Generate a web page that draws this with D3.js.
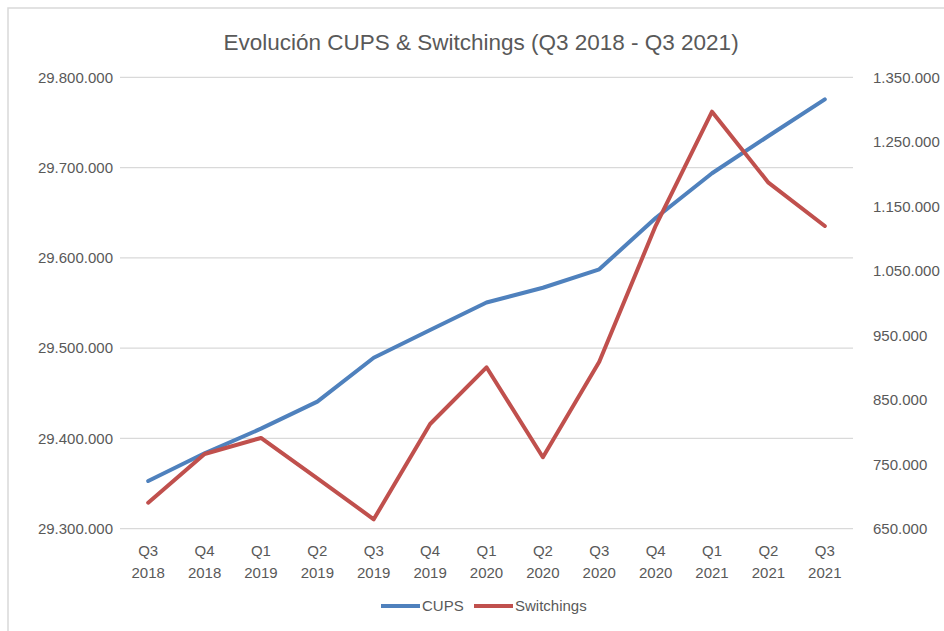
<!DOCTYPE html>
<html>
<head>
<meta charset="utf-8">
<script src="https://cdn.jsdelivr.net/npm/d3@7"></script>
<style>
  html, body { margin: 0; padding: 0; background: #fff; }
  svg { display: block; font-family: "Liberation Sans", Arial, sans-serif; }
</style>
</head>
<body>
<svg id="chart" width="944" height="631"></svg>
<script>
// Quarterly periods shown on the x axis
const quarters = ["Q3", "Q4", "Q1", "Q2", "Q3", "Q4", "Q1", "Q2", "Q3", "Q4", "Q1", "Q2", "Q3"];
const years    = ["2018", "2018", "2019", "2019", "2019", "2019", "2020", "2020", "2020", "2020", "2021", "2021", "2021"];

// CUPS (left axis)
const cups = [29352800, 29383500, 29410800, 29440700, 29489400, 29520100, 29550500,
              29566900, 29587300, 29644200, 29693700, 29735000, 29775600];

// Switchings (right axis)
const switchings = [690400, 765900, 790700, 728200, 664600, 812400, 900300,
                    760800, 909000, 1119700, 1296700, 1186600, 1119400];

// Axis ticks
const leftTicks  = [29300000, 29400000, 29500000, 29600000, 29700000, 29800000];
const rightTicks = [650000, 750000, 850000, 950000, 1050000, 1150000, 1250000, 1350000];

const seriesNames  = ["CUPS", "Switchings"];
const seriesColors = ["#4f81bd", "#c0504d"];

const svg = d3.select("#chart");
const W = 944, H = 631;
const plot = { left: 120, right: 853, top: 77.3, bottom: 528.7 };

// Chart frame
svg.append("rect")
  .attr("x", 8).attr("y", 8)
  .attr("width", W).attr("height", H)
  .attr("fill", "#fff")
  .attr("stroke", "#d9d9d9").attr("stroke-width", 1.5);

// Spanish-style thousands separator
const fmt = d3.formatLocale({ decimal: ",", thousands: ".", grouping: [3], currency: ["", "€"] }).format(",d");

const idx = d3.range(quarters.length);
const x = d3.scaleBand().domain(idx).range([plot.left, plot.right]);
const cx = i => x(i) + x.bandwidth() / 2;

const yL = d3.scaleLinear().domain([29300000, 29800000]).range([plot.bottom, plot.top]);
const yR = d3.scaleLinear().domain([650000, 1350000]).range([plot.bottom, plot.top]);

// Gridlines
svg.append("g").selectAll("line").data(leftTicks).join("line")
  .attr("x1", plot.left).attr("x2", plot.right)
  .attr("y1", d => yL(d)).attr("y2", d => yL(d))
  .attr("stroke", "#d9d9d9").attr("stroke-width", 1.2);

const textColor = "#595959";

// Left axis
const gL = svg.append("g").attr("transform", `translate(${plot.left - 7},0)`)
  .call(d3.axisLeft(yL).tickValues(leftTicks).tickFormat(fmt).tickSize(0).tickPadding(0));
gL.select(".domain").remove();
gL.selectAll("text").attr("fill", textColor).attr("font-size", 15)
  .attr("font-family", "Liberation Sans, Arial, sans-serif");

// Right axis
const gR = svg.append("g").attr("transform", `translate(${plot.right + 20},0)`)
  .call(d3.axisRight(yR).tickValues(rightTicks).tickFormat(fmt).tickSize(0).tickPadding(0));
gR.select(".domain").remove();
gR.selectAll("text").attr("fill", textColor).attr("font-size", 15)
  .attr("font-family", "Liberation Sans, Arial, sans-serif");

// Category labels (two lines)
const gX = svg.append("g");
gX.selectAll("text.q").data(idx).join("text")
  .attr("class", "q")
  .attr("x", cx).attr("y", 556)
  .attr("text-anchor", "middle").attr("fill", textColor).attr("font-size", 15)
  .text(i => quarters[i]);
gX.selectAll("text.yr").data(idx).join("text")
  .attr("class", "yr")
  .attr("x", cx).attr("y", 578)
  .attr("text-anchor", "middle").attr("fill", textColor).attr("font-size", 15)
  .text(i => years[i]);

// Lines
const lineL = d3.line().x((d, i) => cx(i)).y(d => yL(d));
const lineR = d3.line().x((d, i) => cx(i)).y(d => yR(d));

svg.append("path").datum(cups)
  .attr("d", lineL).attr("fill", "none")
  .attr("stroke", seriesColors[0]).attr("stroke-width", 4)
  .attr("stroke-linejoin", "round").attr("stroke-linecap", "round");

svg.append("path").datum(switchings)
  .attr("d", lineR).attr("fill", "none")
  .attr("stroke", seriesColors[1]).attr("stroke-width", 4)
  .attr("stroke-linejoin", "round").attr("stroke-linecap", "round");

// Title
svg.append("text")
  .attr("x", 481).attr("y", 50)
  .attr("text-anchor", "middle").attr("fill", textColor).attr("font-size", 22.5)
  .text("Evolución CUPS & Switchings (Q3 2018 - Q3 2021)");

// Legend
const legend = svg.append("g");
const legendItems = [{ x: 381 }, { x: 474 }];
seriesNames.forEach((name, k) => {
  const lx = legendItems[k].x;
  legend.append("line")
    .attr("x1", lx).attr("x2", lx + 39)
    .attr("y1", 606).attr("y2", 606)
    .attr("stroke", seriesColors[k]).attr("stroke-width", 4);
  legend.append("text")
    .attr("x", lx + 41).attr("y", 611)
    .attr("fill", textColor).attr("font-size", 15)
    .text(name);
});
</script>
</body>
</html>
